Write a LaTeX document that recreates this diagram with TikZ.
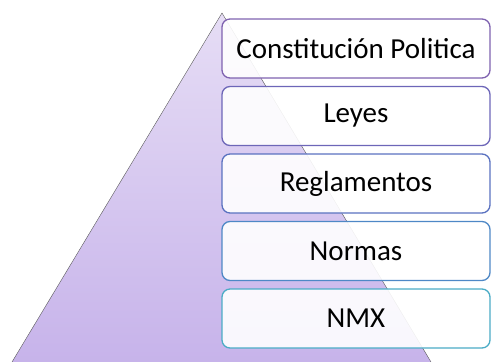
\documentclass[tikz,border=0pt]{standalone}
\usepackage{fontspec}
\setmainfont{Carlito}
\definecolor{piramidearriba}{HTML}{E6DDF5}
\definecolor{piramideabajo}{HTML}{C6B2EA}
\definecolor{borde1}{HTML}{7F62B0}
\definecolor{borde2}{HTML}{6D66B8}
\definecolor{borde3}{HTML}{5A72C0}
\definecolor{borde4}{HTML}{4E88C6}
\definecolor{borde5}{HTML}{4BACC6}
\tikzset{nivel/.style={draw, rounded corners=8pt, line width=1.3pt, fill=white,
    fill opacity=0.9, text opacity=1, minimum width=268pt, minimum height=59pt,
    inner sep=2pt, font=\fontsize{29}{32}\selectfont}}

\begin{document}
\begin{tikzpicture}[x=1pt,y=-1pt]
          \clip (0,0) rectangle (491,362);
          % piramide
          \shade [top color=piramidearriba, bottom color=piramideabajo, draw=black!65] (222,13) -- (437,372) -- (6,372) -- cycle;
          % niveles
          \node [nivel, draw=borde1] (cpol) at (356,48.5) {Constitución Politica};
          \node [nivel, draw=borde2] (leyes) at (356,116) {Leyes};
          \node [nivel, draw=borde3] (regl) at (356,183.5) {Reglamentos};
          \node [nivel, draw=borde4] (normas) at (356,251) {Normas};
          \node [nivel, draw=borde5] (nmx) at (356,318.5) {NMX};
\end{tikzpicture}
\end{document}
